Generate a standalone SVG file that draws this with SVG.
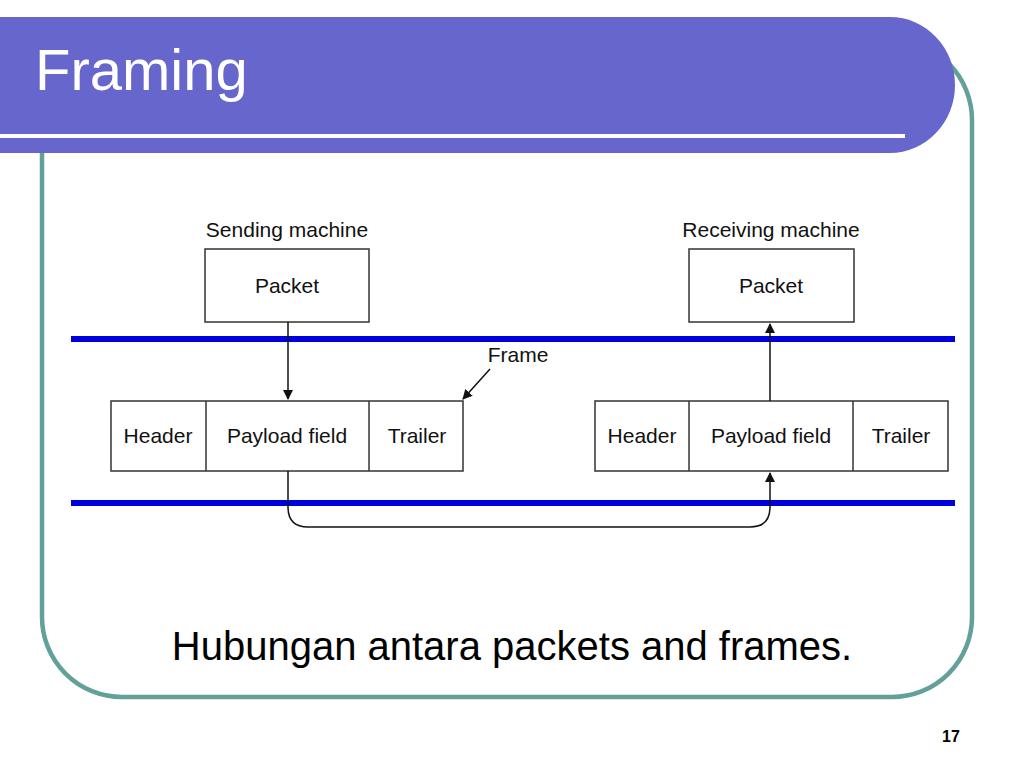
<svg xmlns="http://www.w3.org/2000/svg" width="1024" height="768" viewBox="0 0 1024 768">
<defs>
<style>
.lbl{font-family:"Liberation Sans",Arial,sans-serif;font-size:21px;fill:#111;text-anchor:middle}
.box{fill:#fff;stroke:#333;stroke-width:1.5}
.conn{fill:none;stroke:#111;stroke-width:1.5}
.bus{stroke:#0000dd;stroke-width:6}
</style>
<marker id="ah" markerWidth="10" markerHeight="16" refX="9" refY="5" orient="auto" markerUnits="userSpaceOnUse" viewBox="0 0 10 10">
<path d="M0,0 L10,5 L0,10 Z" fill="#111"/>
</marker>
</defs>
<rect width="1024" height="768" fill="#fff"/>
<rect x="42" y="40" width="930" height="657" rx="80" ry="80" fill="none" stroke="#63a09a" stroke-width="4.5"/>
<g id="titlebar">
<path d="M0,17 L890,17 A65,68 0 0 1 890,153 L0,153 Z" fill="#6666cc"/>
<rect x="0" y="134" width="905" height="4" fill="#fff"/>
<text x="35" y="90" font-family="Liberation Sans,Arial,sans-serif" font-size="58" fill="#fff">Framing</text>
</g>
<g id="buses">
<line class="bus" x1="71" y1="339" x2="955" y2="339"/>
<line class="bus" x1="71" y1="503" x2="955" y2="503"/>
</g>
<g id="send-packet">
<text class="lbl" x="287" y="237">Sending machine</text>
<rect class="box" x="205" y="249" width="164" height="73"/>
<text class="lbl" x="287" y="293">Packet</text>
</g>
<g id="recv-packet">
<text class="lbl" x="771" y="237">Receiving machine</text>
<rect class="box" x="689" y="249" width="165" height="73"/>
<text class="lbl" x="771" y="293">Packet</text>
</g>
<g id="send-frame">
<rect class="box" x="111" y="401" width="352" height="70"/>
<line class="box" x1="206" y1="401" x2="206" y2="471"/>
<line class="box" x1="369" y1="401" x2="369" y2="471"/>
<text class="lbl" x="158" y="443">Header</text>
<text class="lbl" x="287" y="443">Payload field</text>
<text class="lbl" x="417" y="443">Trailer</text>
</g>
<g id="recv-frame">
<rect class="box" x="595" y="401" width="353" height="70"/>
<line class="box" x1="689" y1="401" x2="689" y2="471"/>
<line class="box" x1="853" y1="401" x2="853" y2="471"/>
<text class="lbl" x="642" y="443">Header</text>
<text class="lbl" x="771" y="443">Payload field</text>
<text class="lbl" x="901" y="443">Trailer</text>
</g>
<g id="frame-label">
<text class="lbl" x="518" y="362">Frame</text>
</g>
<g id="connectors">
<line class="conn" x1="288" y1="322" x2="288" y2="399" marker-end="url(#ah)"/>
<line class="conn" x1="770" y1="401" x2="770" y2="324" marker-end="url(#ah)"/>
<line class="conn" x1="490" y1="369" x2="463" y2="399" marker-end="url(#ah)"/>
<path class="conn" d="M288,471 L288,507 Q288,527 308,527 L750,527 Q770,527 770,507 L770,473" marker-end="url(#ah)"/>
</g>
<text x="512" y="660" font-family="Liberation Sans,Arial,sans-serif" font-size="40" fill="#000" text-anchor="middle">Hubungan antara packets and frames.</text>
<text x="951" y="742" font-family="Liberation Sans,Arial,sans-serif" font-size="16" font-weight="bold" fill="#000" text-anchor="middle">17</text>
</svg>
